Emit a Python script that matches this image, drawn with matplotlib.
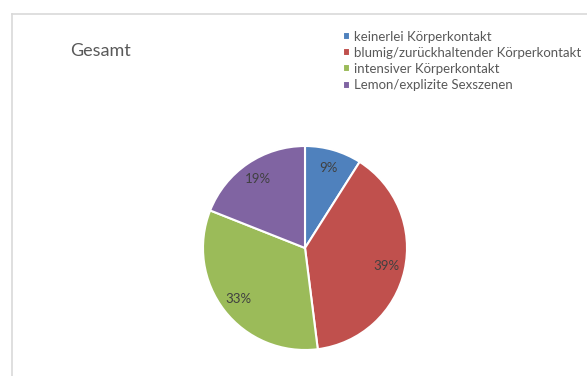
import matplotlib.pyplot as plt
from matplotlib.lines import Line2D

labels = ['keinerlei Körperkontakt', 'blumig/zurückhaltender Körperkontakt',
          'intensiver Körperkontakt', 'Lemon/explizite Sexszenen']
values = [9, 39, 33, 19]
colors = ['#4F81BD', '#C0504D', '#9BBB59', '#8064A2']

W, H = 587, 376
plt.rcParams['font.family'] = ['Lato', 'DejaVu Sans']

fig = plt.figure(figsize=(W / 100, H / 100), dpi=100)

# light chart-area frame (only left and top edges are visible)
fig.add_artist(Line2D([11.5 / W, 11.5 / W], [0, 1 - 13.5 / H], color='#D9D9D9', lw=1.2))
fig.add_artist(Line2D([11.5 / W, 1], [1 - 13.5 / H, 1 - 13.5 / H], color='#D9D9D9', lw=1.2))

cx, cy, r = 305, 248, 102
ax = fig.add_axes([(cx - r) / W, (H - cy - r) / H, 2 * r / W, 2 * r / H])
wedges, _, autotexts = ax.pie(values, colors=colors, startangle=90, counterclock=False,
                              autopct='%1.0f%%', pctdistance=0.82,
                              wedgeprops=dict(edgecolor='white', linewidth=1.5),
                              textprops=dict(color='#404040', fontsize=9.5))
ax.set_xlim(-1, 1)
ax.set_ylim(-1, 1)
ax.set_aspect('equal')
ax.axis('off')

fig.text(70 / W, 1 - 51 / H, 'Gesamt', fontsize=13, color='#595959', va='center', ha='left')

fig.legend(wedges, labels, loc='upper left', bbox_to_anchor=(336 / W, 1 - 24 / H),
           frameon=False, fontsize=9.5, handlelength=0.55, handleheight=0.55,
           handletextpad=0.35, labelspacing=0.32, borderpad=0, labelcolor='#595959')

fig.savefig('out.png', dpi=100)
